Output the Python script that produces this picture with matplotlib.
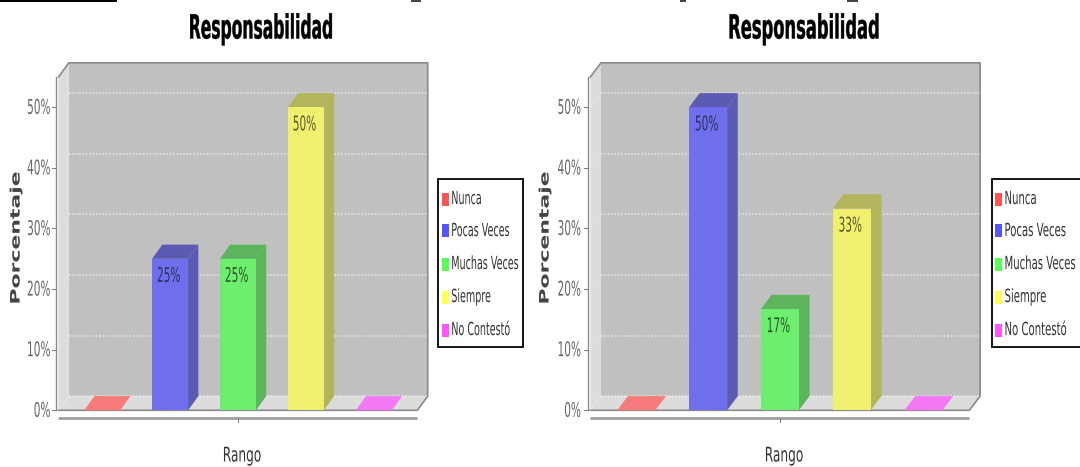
import matplotlib
matplotlib.use("Agg")
import matplotlib.pyplot as plt
from matplotlib.patches import Rectangle
from matplotlib.patheffects import AbstractPathEffect
from matplotlib.text import Text
from matplotlib.transforms import Affine2D, Bbox

W, H = 1080, 467

title = "Responsabilidad"
categories = ["Nunca", "Pocas Veces", "Muchas Veces", "Siempre", "No Contestó"]
values_left = [0, 25, 25, 50, 0]
values_right = [0, 50, 16.7, 33.3, 0]
y_ticks = [0, 10, 20, 30, 40, 50]
x_label = "Rango"
y_label = "Porcentaje"

face = ["#f77b7b", "#6f6fee", "#6eee6e", "#f0f06e", "#f478f4"]
side = ["#f77b7b", "#5b5bb4", "#5cb45c", "#b4b45c", "#f478f4"]
swatch = ["#ff5555", "#5555ff", "#55ff55", "#ffff55", "#ff55ff"]
label_color = ["#333333", "#30305f", "#2a5a2a", "#5a5a30", "#333333"]


class _Squeeze(AbstractPathEffect):
    """Squeeze glyph outlines horizontally about the text's anchor."""

    def __init__(self, owner, sx, stroke=0.0):
        super().__init__()
        self.owner, self.sx, self.stroke = owner, sx, stroke

    def draw_path(self, renderer, gc, tpath, affine, rgbFace=None):
        cx = self.owner.anchor_px()
        a = affine + Affine2D().translate(-cx, 0).scale(self.sx, 1).translate(cx, 0)
        if self.stroke:
            g = renderer.new_gc()
            g.copy_properties(gc)
            g.set_foreground(rgbFace)
            g.set_linewidth(self.stroke)
            renderer.draw_path(g, tpath, a, rgbFace)
            g.restore()
        else:
            renderer.draw_path(gc, tpath, a, rgbFace)


class Condensed(Text):
    def __init__(self, x, y, s, sx=0.52, stroke=0.0, **kw):
        kw.setdefault("family", "DejaVu Sans")
        super().__init__(x, y, s, **kw)
        self.sx = sx
        self.set_path_effects([_Squeeze(self, sx, stroke)])

    def anchor_px(self):
        return self.get_transform().transform(self.get_unitless_position())[0]

    def get_window_extent(self, renderer=None, dpi=None):
        bb = super().get_window_extent(renderer, dpi)
        cx = self.anchor_px()
        return Bbox.from_extents(cx + (bb.x0 - cx) * self.sx, bb.y0, cx + (bb.x1 - cx) * self.sx, bb.y1)


fig = plt.figure(figsize=(W / 100, H / 100), dpi=100, facecolor="white")


def ftext(x, y, s, **kw):
    return fig.add_artist(Condensed(x / W, 1 - y / H, s, transform=fig.transFigure, **kw))


def panel(x0, x1, values, spacing, dx, title_x, title_sx, ylab_x, tick_x, xlab_x, leg_x0, leg_x1, swatch_x, leg_sx):
    y0, y1 = 410.3, 77.0     # pixel rows of 0 and of axis top
    ymax = 55.0
    px_per_unit = (y0 - y1) / ymax
    dy = 14.2
    half = (x1 - x0) / 2 / spacing
    ax = fig.add_axes([x0 / W, 1 - y0 / H, (x1 - x0) / W, (y0 - y1) / H])
    ax.set_xlim(2 - half, 2 + half)
    ax.set_ylim(0, ymax)
    ax.axis("off")
    ddx = dx / spacing
    ddy = dy / px_per_unit
    xa, xb = ax.get_xlim()
    kw = dict(clip_on=False, lw=0)
    # back wall, left wall, floor
    ax.fill([xa + ddx, xb + ddx, xb + ddx, xa + ddx], [ddy, ddy, ymax + ddy, ymax + ddy], color="#c0c0c0", zorder=1, **kw)
    ax.fill([xa, xa + ddx, xa + ddx, xa], [0, ddy, ymax + ddy, ymax], color="#dcdcdc", zorder=1, **kw)
    ax.fill([xa, xb, xb + ddx, xa + ddx], [0, 0, ddy, ddy], color="#dcdcdc", zorder=1, **kw)
    # grid lines on the back wall
    for t in y_ticks:
        ax.plot([xa + ddx, xb + ddx], [t + ddy, t + ddy], color="white", lw=1.1, ls=(0, (1.0, 1.2)),
                alpha=0.65, clip_on=False, zorder=2)
        ax.plot([xa, xa + ddx], [t, t + ddy], color="white", lw=0.6, ls=(0, (1.2, 1.2)),
                alpha=0.4, clip_on=False, zorder=2)
    # plane edges
    edge = dict(color="#8a8a8a", clip_on=False, zorder=3)
    ax.plot([xa, xa + ddx, xb + ddx, xb + ddx, xb, xa], [ymax, ymax + ddy, ymax + ddy, ddy, 0, 0], lw=1.2, **edge)
    ax.plot([xa - 2.7 / spacing] * 2, [0, ymax], lw=1.0, **edge)
    # lower axis band and its tick
    band_y = -7.6 / px_per_unit
    ax.plot([xa, xb], [band_y, band_y], lw=2.0, color="#a0a0a0", clip_on=False, zorder=3, solid_capstyle="butt")
    ax.plot([2, 2], [band_y, band_y - 4 / px_per_unit], lw=0.7, color="#808080", clip_on=False, zorder=3)
    # bars
    width = 0.53
    for i, v in enumerate(values):
        l, r = i - width / 2, i + width / 2
        ax.fill([r, r + ddx, r + ddx, r], [0, ddy, v + ddy, v], color=side[i], zorder=4, **kw)
        ax.fill([l, r, r + ddx, l + ddx], [v, v, v + ddy, v + ddy], color=side[i], zorder=4, **kw)
        if v > 0:
            ax.bar(i, v, width=width, color=face[i], lw=0, zorder=5)
            ax.add_artist(Condensed(i - 0.02, v - 2.9, f"{v:.0f}%", transform=ax.transData, ha="center",
                                    va="center", fontsize=14.6, color=label_color[i], zorder=6))
    # y ticks and labels
    for t in y_ticks:
        ax.plot([xa - 6.5 / spacing, xa - 2.7 / spacing], [t, t], color="#808080", lw=0.8, clip_on=False, zorder=3)
        ftext(tick_x, y0 - t * px_per_unit + 1, f"{t}%", ha="right", va="center", fontsize=14.6, color="#666666")
    # titles
    ftext(title_x, 29, title, sx=title_sx, stroke=0.3, ha="center", va="center", fontsize=24, weight="bold", color="black")
    ftext(xlab_x, 456, x_label, sx=0.6, ha="center", va="center", fontsize=14.6, color="#333333")
    ftext(ylab_x, 237.5, y_label, sx=0.6, rotation=90, ha="center", va="center", fontsize=15.8, weight="bold", color="#444444")
    # legend box
    fig.add_artist(Rectangle((leg_x0 / W, 1 - 347 / H), (leg_x1 - leg_x0) / W, 168 / H, transform=fig.transFigure,
                             facecolor="white", edgecolor="black", lw=1.3))
    rows = [199, 231, 264, 297, 330]
    for name, c, ry in zip(categories, swatch, rows):
        fig.add_artist(Rectangle((swatch_x / W, 1 - (ry + 6.5) / H), 6.8 / W, 13 / H, transform=fig.transFigure,
                                 facecolor=c, edgecolor="none"))
        ftext(swatch_x + 9.5, ry, name, sx=leg_sx, ha="left", va="center", fontsize=13, color="#333333")


panel(58.5, 417.4, values_left, 67.9, 10.3, 261, 0.467, 16, 50.5, 242, 438.3, 522.7, 441.8, 0.53)
panel(590.3, 969.4, values_right, 71.8, 10.7, 804, 0.49, 545, 581, 784, 991.5, 1090, 995, 0.56)

# cut-off heading remnants along the top edge
fig.add_artist(Rectangle((0, 1 - 2.2 / H), 117 / W, 2.2 / H, transform=fig.transFigure, color="black", lw=0))
for xa, xb in [(411, 421), (680, 686), (847, 858)]:
    fig.add_artist(Rectangle((xa / W, 1 - 1.6 / H), (xb - xa) / W, 1.6 / H, transform=fig.transFigure,
                             color="#444444", lw=0))

fig.savefig("out.png", dpi=100)
